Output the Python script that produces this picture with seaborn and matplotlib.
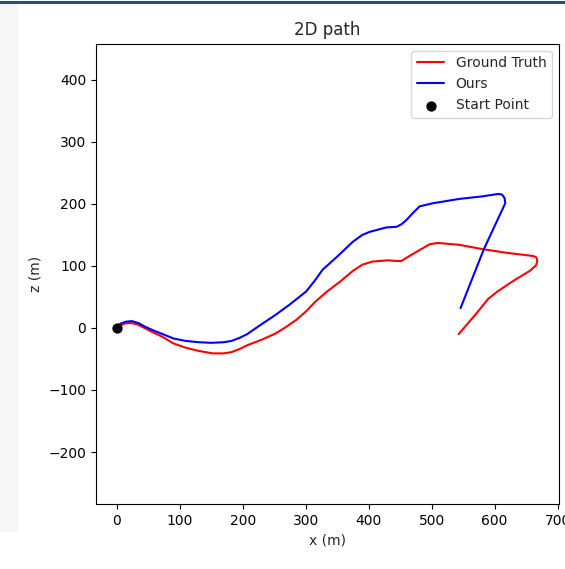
import matplotlib
matplotlib.use("Agg")
import matplotlib.pyplot as plt
import seaborn as sns
import pandas as pd
from matplotlib.patches import Rectangle
from matplotlib.lines import Line2D

gt_x = [0, 6, 12, 22, 32, 42, 55, 72, 90, 110, 130, 152, 170, 182, 195, 207, 230, 252, 268,
        285, 301, 315, 333, 355, 375, 390, 406, 430, 444, 452, 460, 480, 497, 510, 544,
        581, 620, 661, 666, 668, 666, 656, 630, 605, 590, 570, 543]
gt_z = [0, 4, 7, 8, 6, 1, -6, -14, -25, -32, -37, -41, -41, -39, -34, -28, -19, -9, 1,
        13, 27, 42, 58, 75, 92, 102, 107, 109, 108, 108, 113, 125, 135, 137, 134,
        127, 121, 116, 114, 109, 101, 92, 76, 59, 47, 22, -10]

ours_x = [0, 6, 14, 24, 34, 45, 58, 73, 90, 110, 130, 150, 170, 182, 195, 207, 227, 252,
          275, 301, 315, 327, 350, 375, 390, 402, 428, 444, 452, 460, 470, 481, 502, 544,
          580, 606, 612, 616, 617, 611, 583, 546]
ours_z = [2, 7, 10, 11, 8, 2, -4, -10, -17, -21, -23, -24, -23, -21, -16, -10, 4, 21,
          38, 59, 77, 94, 115, 139, 150, 155, 162, 163, 167, 174, 185, 196, 201, 208,
          212, 216, 215, 209, 201, 188, 127, 32]

start_x = [0]
start_z = [0]

sns.set_style("ticks")
plt.rcParams['font.family'] = ['DejaVu Sans']

fig = plt.figure(figsize=(5.65, 5.69), dpi=100)
fig.patch.set_facecolor("white")
# screenshot decorations
fig.patches.append(Rectangle((0, 0.065), 0.031, 0.928, transform=fig.transFigure,
                             facecolor="#f6f6f6", edgecolor="none", zorder=-5))
fig.lines.append(Line2D([0, 1], [0.9965, 0.9965], transform=fig.transFigure,
                        color="#1f4e8c", linewidth=2.2))

ax = fig.add_axes([0.170, 0.114, 0.819, 0.809])

df_gt = pd.DataFrame({"x": gt_x, "z": gt_z})
df_ours = pd.DataFrame({"x": ours_x, "z": ours_z})
df_start = pd.DataFrame({"x": start_x, "z": start_z})

sns.lineplot(data=df_gt, x="x", y="z", sort=False, estimator=None, color="red",
             linewidth=1.5, label="Ground Truth", ax=ax)
sns.lineplot(data=df_ours, x="x", y="z", sort=False, estimator=None, color="blue",
             linewidth=1.5, label="Ours", ax=ax)
sns.scatterplot(data=df_start, x="x", y="z", color="black", s=55, edgecolor="black",
                linewidth=0, label="Start Point", ax=ax, zorder=5)

ax.set_xlim(-33, 702)
ax.set_ylim(-284, 458)
ax.set_xticks([0, 100, 200, 300, 400, 500, 600, 700])
ax.set_yticks([-200, -100, 0, 100, 200, 300, 400])
ax.set_yticklabels(["\u2212200", "\u2212100", "0", "100", "200", "300", "400"])
ax.tick_params(labelsize=10, length=3.5, width=0.8, color="black", labelcolor="black")
for s in ax.spines.values():
    s.set_visible(True)
    s.set_color("black")
    s.set_linewidth(0.8)
ax.set_xlabel("x (m)", fontsize=10)
ax.set_ylabel("z (m)", fontsize=10)
ax.set_title("2D path", fontsize=12)
leg = ax.legend(loc="upper right", fontsize=10, frameon=True)
leg.get_frame().set_edgecolor("#cccccc")

fig.savefig("out.png", dpi=100, facecolor="white")
